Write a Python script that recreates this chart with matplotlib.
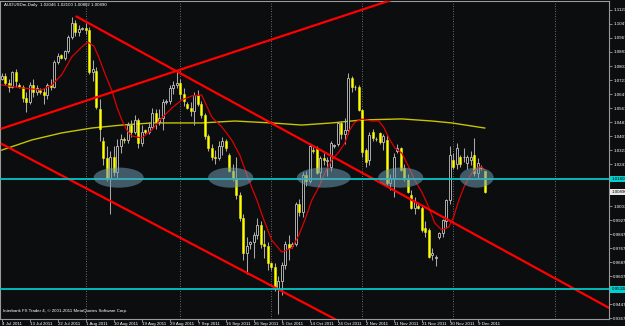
import numpy as np
import matplotlib
matplotlib.use("Agg")
from matplotlib import pyplot as plt
from matplotlib.patches import Ellipse

plt.rcParams['font.family'] = ['Liberation Sans', 'DejaVu Sans']

# AUDUSDm daily, 4 Jul 2011 .. 12 Dec 2011 (broker has sunday bars: Mon..Fri, Sun per week)
opens = [
    1.0735, 1.0750, 1.0710, 1.0690, 1.0770, 1.0700,
    1.0690, 1.0625, 1.0600, 1.0700, 1.0660, 1.0670,
    1.0660, 1.0640, 1.0700, 1.0690, 1.0830, 1.0870,
    1.0850, 1.0890, 1.0970, 1.1050, 1.1000, 1.1020,
    1.1022, 1.1010, 1.0775, 1.0780, 1.0560, 1.0380,
    1.0280, 1.0170, 1.0290, 1.0200, 1.0350, 1.0390,
    1.0385, 1.0470, 1.0430, 1.0500, 1.0370, 1.0440,
    1.0430, 1.0460, 1.0540, 1.0490, 1.0510, 1.0600,
    1.0610, 1.0680, 1.0700, 1.0710, 1.0650, 1.0590,
    1.0570, 1.0550, 1.0640, 1.0590, 1.0530, 1.0410,
    1.0340, 1.0290, 1.0280, 1.0350, 1.0380, 1.0300,
    1.0210, 1.0170, 1.0070, 0.9940, 0.9740, 0.9790,
    0.9800, 0.9840, 0.9900, 0.9790, 0.9780, 0.9680,
    0.9660, 0.9540, 0.9580, 0.9670, 0.9790, 0.9780,
    0.9790, 1.0020, 0.9975, 1.0185, 1.0150, 1.0330,
    1.0340, 1.0200, 1.0280, 1.0265, 1.0230, 1.0350,
    1.0360, 1.0480, 1.0420, 1.0440, 1.0740, 1.0690,
    1.0685, 1.0556, 1.0330, 1.0270, 1.0430, 1.0390,
    1.0424, 1.0375, 1.0385, 1.0140, 1.0165, 1.0320,
    1.0340, 1.0225, 1.0160, 1.0070, 0.9995, 1.0010,
    0.9995, 0.9880, 0.9870, 0.9730, 0.9710, 0.9832,
    0.9852, 0.9920, 1.0040, 1.0270, 1.0250, 1.0290,
    1.0285, 1.0253, 1.0270, 1.0299, 1.0196, 1.0230,
    1.0205,
]
highs = [
    1.0765, 1.0765, 1.0730, 1.0780, 1.0790, 1.0710,
    1.0700, 1.0660, 1.0715, 1.0730, 1.0700, 1.0680,
    1.0680, 1.0710, 1.0730, 1.0840, 1.0880, 1.0875,
    1.0900, 1.0985, 1.1085, 1.1070, 1.1040, 1.1030,
    1.1050, 1.1030, 1.0840, 1.0800, 1.0620, 1.0400,
    1.0350, 1.0320, 1.0350, 1.0390, 1.0420, 1.0400,
    1.0490, 1.0500, 1.0530, 1.0510, 1.0470, 1.0450,
    1.0490, 1.0570, 1.0560, 1.0560, 1.0620, 1.0620,
    1.0700, 1.0720, 1.0770, 1.0730, 1.0680, 1.0600,
    1.0600, 1.0660, 1.0670, 1.0610, 1.0540, 1.0420,
    1.0360, 1.0330, 1.0380, 1.0400, 1.0390, 1.0310,
    1.0250, 1.0290, 1.0090, 0.9960, 0.9830, 0.9810,
    0.9860, 0.9940, 0.9920, 0.9870, 0.9800, 0.9690,
    0.9680, 0.9610, 0.9690, 0.9810, 0.9840, 0.9800,
    1.0030, 1.0050, 1.0200, 1.0210, 1.0370, 1.0345,
    1.0350, 1.0295, 1.0310, 1.0285, 1.0380, 1.0360,
    1.0490, 1.0495, 1.0510, 1.0765, 1.0750, 1.0700,
    1.0700, 1.0560, 1.0340, 1.0430, 1.0450, 1.0400,
    1.0430, 1.0420, 1.0420, 1.0190, 1.0310, 1.0360,
    1.0345, 1.0250, 1.0190, 1.0100, 1.0060, 1.0020,
    1.0010, 0.9920, 0.9880, 0.9770, 0.9730, 0.9860,
    0.9935, 1.0050, 1.0350, 1.0310, 1.0370, 1.0300,
    1.0340, 1.0300, 1.0320, 1.0396, 1.0280, 1.0240,
    1.0210,
]
lows = [
    1.0725, 1.0700, 1.0660, 1.0680, 1.0690, 1.0680,
    1.0600, 1.0545, 1.0590, 1.0630, 1.0640, 1.0650,
    1.0590, 1.0620, 1.0670, 1.0680, 1.0820, 1.0845,
    1.0840, 1.0880, 1.0960, 1.0980, 1.0980, 1.1010,
    1.0990, 1.0760, 1.0720, 1.0560, 1.0380, 1.0240,
    1.0150, 0.9960, 1.0180, 1.0170, 1.0310, 1.0370,
    1.0370, 1.0400, 1.0420, 1.0340, 1.0350, 1.0420,
    1.0420, 1.0450, 1.0450, 1.0470, 1.0440, 1.0590,
    1.0590, 1.0650, 1.0680, 1.0620, 1.0580, 1.0560,
    1.0520, 1.0470, 1.0580, 1.0510, 1.0390, 1.0320,
    1.0270, 1.0250, 1.0270, 1.0300, 1.0320, 1.0200,
    1.0150, 1.0050, 0.9920, 0.9700, 0.9620, 0.9760,
    0.9710, 0.9820, 0.9770, 0.9710, 0.9640, 0.9640,
    0.9520, 0.9390, 0.9500, 0.9650, 0.9700, 0.9770,
    0.9780, 0.9950, 0.9945, 1.0120, 1.0140, 1.0310,
    1.0190, 1.0160, 1.0240, 1.0180, 1.0210, 1.0340,
    1.0350, 1.0390, 1.0360, 1.0420, 1.0660, 1.0670,
    1.0550, 1.0290, 1.0230, 1.0240, 1.0380, 1.0380,
    1.0360, 1.0330, 1.0130, 1.0100, 1.0060, 1.0310,
    1.0210, 1.0150, 1.0080, 0.9990, 0.9960, 0.9990,
    0.9860, 0.9830, 0.9710, 0.9700, 0.9663, 0.9820,
    0.9830, 0.9880, 1.0020, 1.0220, 1.0220, 1.0230,
    1.0260, 1.0220, 1.0240, 1.0180, 1.0170, 1.0215,
    1.0080,
]
closes = [
    1.0750, 1.0710, 1.0690, 1.0770, 1.0720, 1.0690,
    1.0625, 1.0600, 1.0700, 1.0660, 1.0680, 1.0660,
    1.0640, 1.0700, 1.0690, 1.0830, 1.0865, 1.0850,
    1.0890, 1.0970, 1.1050, 1.1000, 1.1020, 1.1022,
    1.1010, 1.0775, 1.0790, 1.0575, 1.0450, 1.0280,
    1.0170, 1.0290, 1.0200, 1.0350, 1.0390, 1.0385,
    1.0470, 1.0430, 1.0500, 1.0370, 1.0430, 1.0430,
    1.0460, 1.0540, 1.0490, 1.0510, 1.0600, 1.0610,
    1.0680, 1.0700, 1.0710, 1.0650, 1.0610, 1.0570,
    1.0550, 1.0640, 1.0590, 1.0530, 1.0410, 1.0340,
    1.0290, 1.0280, 1.0350, 1.0380, 1.0340, 1.0210,
    1.0170, 1.0070, 0.9940, 0.9740, 0.9780, 0.9800,
    0.9840, 0.9900, 0.9790, 0.9780, 0.9680, 0.9660,
    0.9540, 0.9580, 0.9670, 0.9790, 0.9770, 0.9790,
    1.0020, 0.9975, 1.0185, 1.0150, 1.0350, 1.0320,
    1.0196, 1.0280, 1.0270, 1.0272, 1.0370, 1.0355,
    1.0480, 1.0420, 1.0440, 1.0740, 1.0690, 1.0685,
    1.0556, 1.0316, 1.0260, 1.0413, 1.0396, 1.0392,
    1.0373, 1.0410, 1.0139, 1.0165, 1.0290, 1.0340,
    1.0213, 1.0160, 1.0090, 0.9996, 1.0030, 0.9995,
    0.9871, 0.9860, 0.9716, 0.9740, 0.9715, 0.9852,
    0.9928, 1.0040, 1.0300, 1.0230, 1.0340, 1.0245,
    1.0290, 1.0288, 1.0290, 1.0196, 1.0253, 1.0225,
    1.0089,
]

# red moving average (bar index, price)
ma_red_x = [0, 5.7, 11.4, 14.3, 17.1, 20, 22.9, 24.6, 26.3, 27.7, 29.4, 31.4, 32.9, 34.3,
            35.7, 37.1, 40, 42.9, 45.7, 48.6, 51.4, 54.3, 57.1, 60, 62.9, 65.7, 68, 70.6,
            72.9, 74.9, 77.1, 80, 82.9, 84.9, 86.6, 88.6, 90.6, 92.3, 94.3, 96.3, 98, 99.4,
            100.9, 102.9, 105.7, 107.7, 109.1, 110.6, 112.3, 114.3, 116.3, 118, 120, 122,
            123.7, 125.7, 127.7, 129.1, 130.6, 132.3, 134.3, 136.3, 137.1, 138]
ma_red = [1.0699, 1.0682, 1.0670, 1.0699, 1.0756, 1.0859, 1.0916, 1.0944, 1.0921, 1.0859,
          1.0767, 1.0670, 1.0573, 1.0499, 1.0442, 1.0408, 1.0396, 1.0442, 1.0510, 1.0567,
          1.0613, 1.0636, 1.0642, 1.0516, 1.0459, 1.0385, 1.0299, 1.0156, 1.0042, 0.9928,
          0.9814, 0.9745, 0.9768, 0.9842, 0.9928, 1.0042, 1.0116, 1.0196, 1.0270, 1.0316,
          1.0367, 1.0442, 1.0487, 1.0504, 1.0493, 1.0493, 1.0459, 1.0396, 1.0339, 1.0310,
          1.0230, 1.0156, 1.0088, 1.0002, 0.9911, 0.9871, 0.9888, 0.9945, 1.0042, 1.0128,
          1.0196, 1.0230, 1.0230, 1.0213]

# yellow slow moving average
ma_yel_x = [0, 8.6, 17.1, 25.7, 34.3, 42.9, 57.1, 66.6, 77.1, 85.7, 94.3, 102.9, 114.3,
            122.9, 128.6, 138]
ma_yel = [1.0327, 1.0385, 1.0425, 1.0453, 1.0470, 1.0482, 1.0482, 1.0493, 1.0482, 1.0470,
          1.0482, 1.0499, 1.0505, 1.0493, 1.0482, 1.0453]

# drawn objects: trend lines (bar, price) pairs, horizontal levels, ellipses
trend_lines = [
    ([0, 111.4], [1.0450, 1.1184]),
    ([21.4, 174], [1.1089, 0.9421]),
    ([0, 174], [1.0362, 0.8535]),
]
levels = [1.0160, 0.9532]
ell_x = [33.4, 65.4, 92.0, 114.0, 135.7]
ell_w = [14.3, 12.9, 15.4, 12.9, 9.7]

tick_pos = list(range(0, 137, 8))
tick_labels = ['4 Jul 2011', '13 Jul 2011', '22 Jul 2011', '1 Aug 2011', '10 Aug 2011',
               '19 Aug 2011', '29 Aug 2011', '7 Sep 2011', '16 Sep 2011', '26 Sep 2011',
               '5 Oct 2011', '14 Oct 2011', '24 Oct 2011', '2 Nov 2011', '11 Nov 2011',
               '21 Nov 2011', '30 Nov 2011', '9 Dec 2011']
month_bars = [24, 51, 77, 103, 129, 158]
price_ticks = [1.1127 - 0.008 * k for k in range(23)]

bg = '#0b0d0f'
fs = 3.2
fig = plt.figure(figsize=(6.25, 3.26), dpi=100, facecolor=bg)
ax = fig.add_axes([0, 7 / 326, 609 / 625, 318 / 326], facecolor=bg)

x = np.arange(len(closes))
o = np.array(opens)
c = np.array(closes)
up = c >= o

for m in month_bars:
    ax.axvline(m, color='#8a8a8a', linestyle=(0, (1, 2)), linewidth=0.6, zorder=1)

# yellow MA sits behind the candles
ax.plot(ma_yel_x, ma_yel, color='#c8c400', linewidth=1.0, zorder=2)

ax.vlines(x, lows, highs, color='#a8a8a8', linewidth=0.75, zorder=3)
body_bottom = np.minimum(o, c)
body_h = np.maximum(np.abs(c - o), 0.0003)
ax.bar(x[up], body_h[up], bottom=body_bottom[up], width=0.62,
       color='#000000', edgecolor='#c4c4c4', linewidth=0.6, zorder=3.5)
ax.bar(x[~up], body_h[~up], bottom=body_bottom[~up], width=0.62,
       color='#ffff00', edgecolor='#eeee00', linewidth=0.4, zorder=3.5)

ax.plot(ma_red_x, ma_red, color='#e00000', linewidth=0.9, zorder=4)

for xs, ys in trend_lines:
    ax.plot(xs, ys, color='#ff0000', linewidth=1.6, zorder=4.5)

for lv in levels:
    ax.axhline(lv, color='#00c8c8', linewidth=1.3, zorder=4.5)

for ex, ew in zip(ell_x, ell_w):
    ax.add_patch(Ellipse((ex, 1.0170), ew, 0.0115, facecolor='#6d9bb0',
                         edgecolor='none', alpha=0.55, zorder=5))

ax.set_xlim(-0.5, 173.5)
ax.set_ylim(0.9363, 1.1178)

# scale labels that sit under the price boxes are hidden, as in the terminal
boxed = [closes[-1]] + levels
scale_labels = []
for p in price_ticks:
    if min(abs(p - b) for b in boxed) < 0.005:
        scale_labels.append('')
    else:
        scale_labels.append('%.5f' % p)

ax.yaxis.tick_right()
ax.set_yticks(price_ticks)
ax.set_yticklabels(scale_labels)
ax.set_xticks(tick_pos)
ax.set_xticklabels(tick_labels, ha='left')
ax.tick_params(axis='y', colors='#9a9a9a', labelcolor='white', labelsize=fs,
               length=2, width=0.6, pad=1)
ax.tick_params(axis='x', colors='#9a9a9a', labelcolor='white', labelsize=fs,
               length=2, width=0.6, pad=0.5)
for s in ax.spines.values():
    s.set_color('#9a9a9a')
    s.set_linewidth(0.8)

# price boxes on the scale
for lv in levels:
    ax.text(1.004, lv, '%.5f' % lv, transform=ax.get_yaxis_transform(), fontsize=fs,
            color='black', va='center', ha='left', zorder=10, clip_on=False,
            bbox=dict(facecolor='#00d0d0', edgecolor='none', pad=0.8))
ax.text(1.004, closes[-1], '%.5f' % closes[-1], transform=ax.get_yaxis_transform(),
        fontsize=fs, color='black', va='center', ha='left', zorder=10, clip_on=False,
        bbox=dict(facecolor='#e8e8e8', edgecolor='none', pad=0.8))

fig.text(4 / 625, 1 - 3 / 326, 'AUDUSDm,Daily  %.5f %.5f %.5f %.5f'
         % (1.02046, 1.02100, 1.00802, closes[-1]),
         color='white', fontsize=fs, va='top', ha='left')
ax.text(0.005, 0.02, 'Interbank FX Trader 4, \u00a9 2001-2011 MetaQuotes Software Corp.',
        transform=ax.transAxes, color='white', fontsize=fs, va='bottom', ha='left')

plt.savefig('out.png', dpi=100, facecolor=bg)
